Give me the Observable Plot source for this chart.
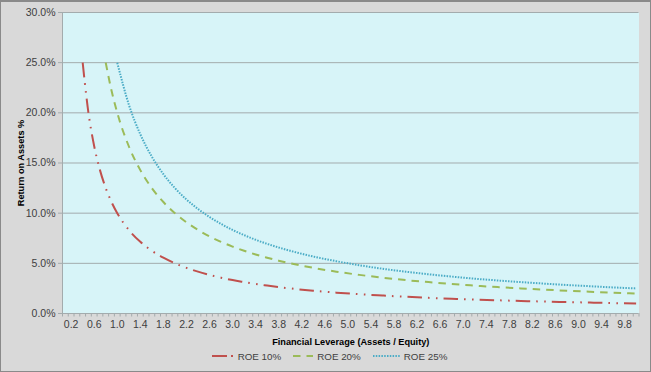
<!DOCTYPE html>
<html>
<head>
<meta charset="utf-8">
<script src="https://cdn.jsdelivr.net/npm/d3@7"></script>
<script src="https://cdn.jsdelivr.net/npm/@observablehq/plot@0.6"></script>
<style>
  html, body { margin: 0; padding: 0; background: #d9d9d9; }
  #wrap { position: relative; width: 651px; height: 372px; background: #d9d9d9; overflow: hidden;
          font-family: "Liberation Sans", Arial, sans-serif; }
  #border { position: absolute; left: 0; top: 0; width: 651px; height: 372px; box-sizing: border-box;
            border: 1px solid #8a8a8a; border-top-width: 2px; pointer-events: none; }
  #chart { position: absolute; left: 0; top: 0; }
  #legend { position: absolute; left: 4px; top: 346px; width: 651px; height: 20px; display: flex;
            justify-content: center; align-items: center; font-size: 9.8px; color: #404040; }
  .item { display: flex; align-items: center; margin: 0 6px; }
  .item svg { margin-right: 4px; }
</style>
</head>
<body>
<div id="wrap">
  <div id="chart"></div>
  <div id="legend"></div>
  <div id="border"></div>
</div>
<script>
// Financial leverage (Assets / Equity)
const leverage = [0.4,0.5,0.6,0.7,0.8,0.9,1.0,1.2,1.4,1.6,1.8,2.0,2.2,2.4,2.6,2.8,3.0,3.2,3.4,3.6,3.8,4.0,4.4,4.8,5.2,5.6,6.0,6.4,6.8,7.2,7.6,8.0,8.4,8.8,9.2,9.6,10.0];
// Return on assets, %
const roe10 = [25.0,20.0,16.67,14.29,12.5,11.11,10.0,8.33,7.14,6.25,5.56,5.0,4.55,4.17,3.85,3.57,3.33,3.13,2.94,2.78,2.63,2.5,2.27,2.08,1.92,1.79,1.67,1.56,1.47,1.39,1.32,1.25,1.19,1.14,1.09,1.04,1.0];
const roe20 = [null,null,null,null,25.0,22.22,20.0,16.67,14.29,12.5,11.11,10.0,9.09,8.33,7.69,7.14,6.67,6.25,5.88,5.56,5.26,5.0,4.55,4.17,3.85,3.57,3.33,3.13,2.94,2.78,2.63,2.5,2.38,2.27,2.17,2.08,2.0];
const roe25 = [null,null,null,null,null,null,25.0,20.83,17.86,15.63,13.89,12.5,11.36,10.42,9.62,8.93,8.33,7.81,7.35,6.94,6.58,6.25,5.68,5.21,4.81,4.46,4.17,3.91,3.68,3.47,3.29,3.13,2.98,2.84,2.72,2.60,2.5];

const seriesNames = ["ROE 10%", "ROE 20%", "ROE 25%"];
const seriesValues = [roe10, roe20, roe25];
const colors = ["#c0504d", "#9bbb59", "#4bacc6"];
const dashes = ["14.5,6,1.6,6.4,1.6,6", "7.5,6", "1.5,1.3"];

const yTicks = [0, 5, 10, 15, 20, 25, 30];
const xTickLabels = [0.2,0.6,1.0,1.4,1.8,2.2,2.6,3.0,3.4,3.8,4.2,4.6,5.0,5.4,5.8,6.2,6.6,7.0,7.4,7.8,8.2,8.6,9.0,9.4,9.8];
// category boundaries (Excel category axis, one tick per 0.1 category)
const xTickMarks = d3.range(0, 101).map(i => +(0.05 + i * 0.1).toFixed(2));
const xTitle = "Financial Leverage (Assets / Equity)";
const yTitle = "Return on Assets %";

const rows = [];
seriesNames.forEach((name, s) => {
  leverage.forEach((L, i) => {
    const v = seriesValues[s][i];
    if (v != null) rows.push({series: name, L, v});
  });
});

const font = '"Liberation Sans", Arial, sans-serif';

const marks = [
  Plot.frame({fill: "#d7f4f8", stroke: "none"}),
  Plot.ruleY(yTicks.filter(d => d > 0), {stroke: "#a3abad", strokeWidth: 1}),
  Plot.ruleY([0], {stroke: "#a3abad", strokeWidth: 1}),
  Plot.ruleX([0.05], {stroke: "#a3abad", strokeWidth: 1}),
  Plot.axisY({ticks: yTicks, tickSize: 4, tickPadding: 3, tickFormat: d => d.toFixed(1) + "%",
    stroke: "#a3abad", fill: "#404040", fontSize: 10.5, label: null}),
  Plot.axisX({ticks: xTickMarks, tickSize: 3.5, tickFormat: () => "", stroke: "#a3abad", label: null}),
  Plot.axisX({ticks: xTickLabels, tickSize: 0, tickPadding: 7, tickFormat: d => d.toFixed(1),
    fill: "#404040", fontSize: 10.5, label: null}),
  Plot.text([xTitle], {text: d => d, frameAnchor: "bottom", textAnchor: "middle", lineAnchor: "middle", dy: 29,
    fontWeight: "bold", fill: "#000", fontSize: 9.2}),
  Plot.text([yTitle], {text: d => d, frameAnchor: "left", textAnchor: "middle", rotate: -90, lineAnchor: "middle", dx: -41,
    fontWeight: "bold", fill: "#000", fontSize: 9.2}),
  ...seriesNames.map((name, s) =>
    Plot.line(rows.filter(r => r.series === name), {
      x: "L", y: "v", stroke: colors[s], strokeWidth: 2, strokeDasharray: dashes[s],
      curve: "monotone-x", strokeLinecap: "butt"
    })
  )
];

const chart = Plot.plot({
  width: 651,
  height: 352,
  marginLeft: 62,
  marginRight: 12.5,
  marginTop: 12,
  marginBottom: 39,
  style: {background: "transparent", fontFamily: font, fontSize: "10.5px", color: "#404040"},
  x: {domain: [0.05, 10.05], axis: null},
  y: {domain: [0, 30], axis: null},
  marks
});
document.getElementById("chart").appendChild(chart);

// legend
const legend = document.getElementById("legend");
seriesNames.forEach((name, s) => {
  const item = document.createElement("div");
  item.className = "item";
  const w = s === 0 ? 22 : (s === 1 ? 20 : 27);
  item.innerHTML = `<svg width="${w}" height="8"><line x1="0" y1="4" x2="${w}" y2="4" stroke="${colors[s]}" stroke-width="2" stroke-dasharray="${s === 0 ? '15,4,2,4' : dashes[s]}"/></svg><span>${name}</span>`;
  legend.appendChild(item);
});
</script>
</body>
</html>
